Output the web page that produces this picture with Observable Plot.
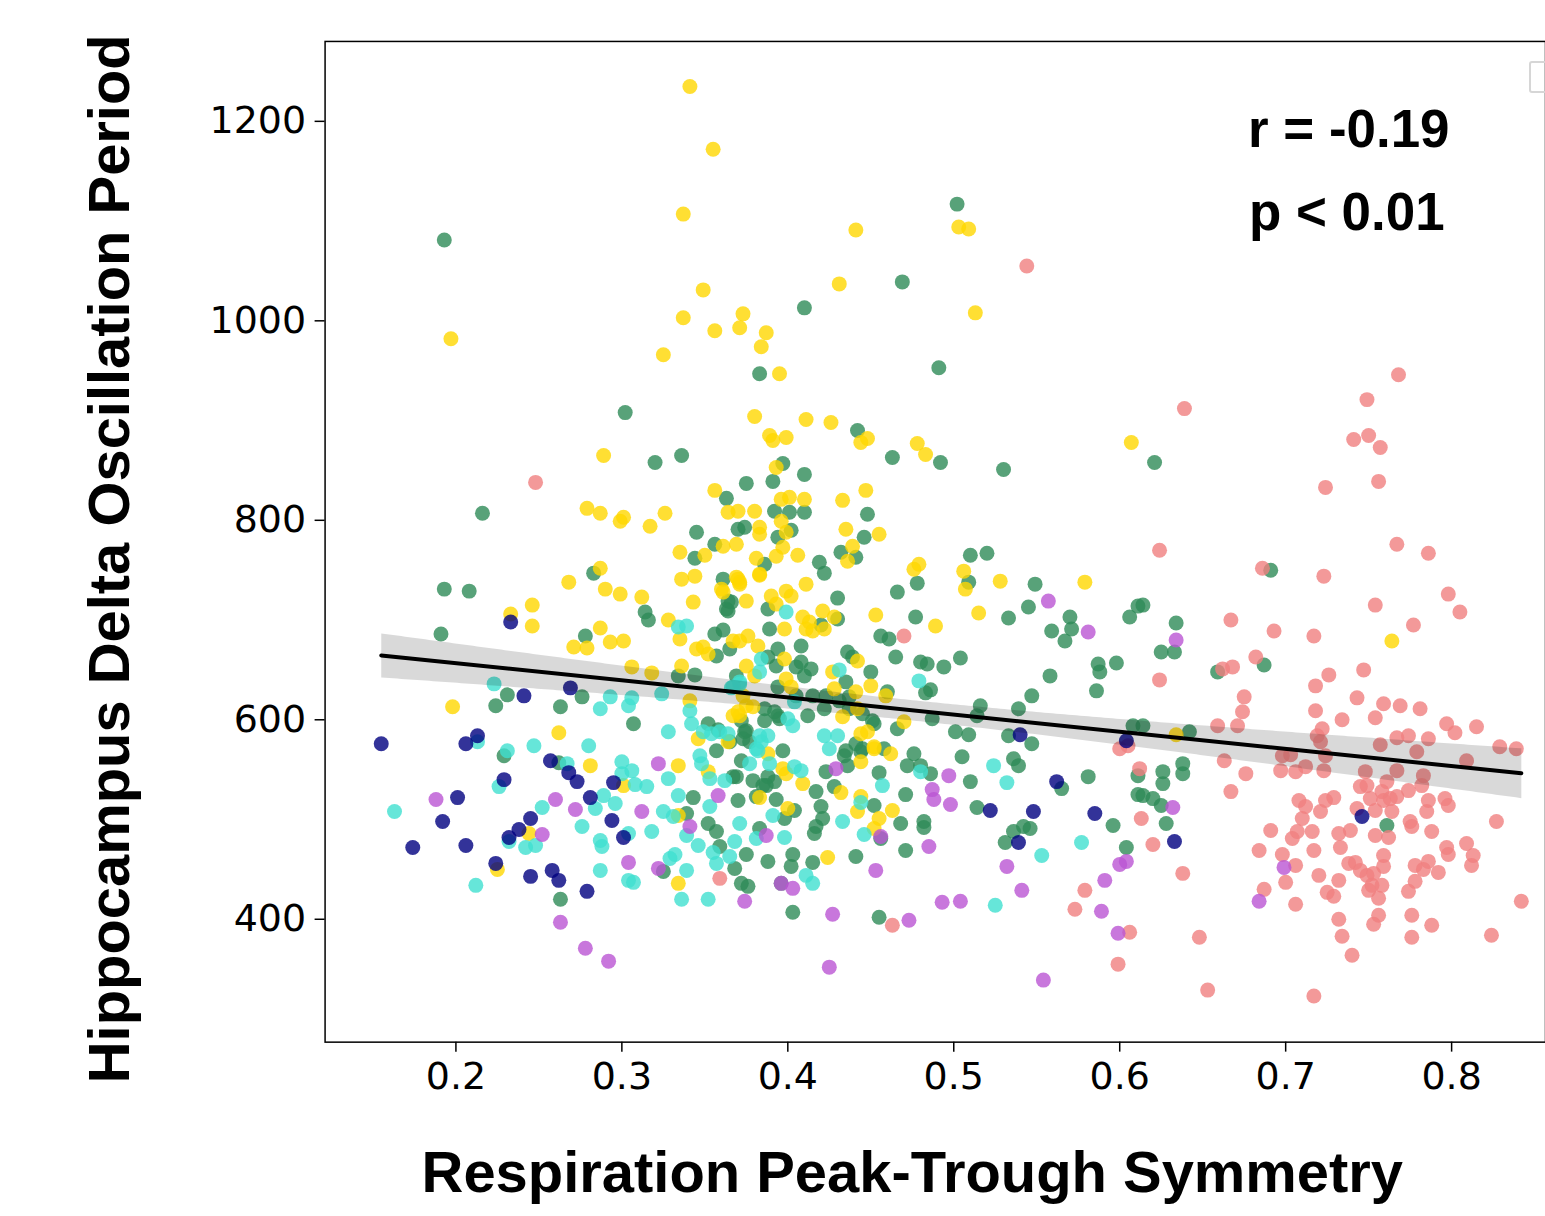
<!DOCTYPE html>
<html>
<head>
<meta charset="utf-8">
<script src="https://cdn.jsdelivr.net/npm/d3@7"></script>
<script src="https://cdn.jsdelivr.net/npm/@observablehq/plot@0.6"></script>
<style>
  html, body { margin: 0; padding: 0; background: #fff; overflow: hidden; }
  #wrap { position: relative; width: 1545px; height: 1216px; overflow: hidden; }
  #legendbox { position: absolute; left: 1529px; top: 61px; width: 30px; height: 32px;
    border: 2px solid #d6d6d6; border-radius: 3px; box-sizing: border-box; }
</style>
</head>
<body>
<div id="wrap"><div id="legendbox"></div></div>
<script>
// ---- data (x = respiration peak-trough symmetry, y = delta oscillation period) ----
const xTicks = [0.2, 0.3, 0.4, 0.5, 0.6, 0.7, 0.8];
const yTicks = [400, 600, 800, 1000, 1200];
const xLabel = "Respiration Peak-Trough Symmetry";
const yLabel = "Hippocampus Delta Oscillation Period";
const statText = ["r = -0.19", "p < 0.01"];

const seagreenPts = [
[0.193,1081],[0.302,908],[0.336,865],
[0.502,1117],[0.469,1039],[0.410,1013],[0.383,947],[0.491,953],[0.442,890],
[0.320,858],[0.216,807],[0.363,822],[0.345,788],[0.356,776],[0.344,762],[0.283,747],[0.361,741],[0.193,731],[0.208,729],[0.314,708],[0.316,700],[0.364,719],[0.363,711],[0.191,686],[0.278,684],[0.356,686],[0.361,690],[0.357,664],[0.365,671],[0.334,644],[0.344,645],[0.231,625],[0.224,614],[0.276,623],[0.263,613],[0.307,596],[0.352,596],[0.358,590],
[0.229,564],[0.262,557],[0.343,522],[0.339,506],[0.352,496],[0.357,488],[0.359,473],[0.263,420],[0.325,448],
[0.372,559],[0.379,539],[0.369,543],[0.397,569],[0.388,543],[0.392,538],[0.387,534],[0.423,548],[0.436,554],[0.434,564],[0.444,568],[0.458,571],[0.476,566],[0.472,554],[0.480,554],[0.486,546],[0.455,547],[0.428,533],[0.417,528],[0.471,525],[0.370,519],[0.381,523],[0.393,520],[0.404,509],[0.398,501],[0.420,513],[0.421,501],[0.417,493],[0.416,486],[0.452,514],[0.468,496],[0.482,498],[0.482,492],[0.456,481],[0.383,491],[0.375,465],[0.368,451],[0.372,436],[0.376,433],[0.403,465],[0.402,453],[0.388,458],[0.415,457],[0.441,463],[0.471,469],[0.396,436],[0.403,407],[0.455,402],[0.505,563],[0.510,538],[0.514,512],[0.536,561],[0.539,554],[0.536,488],[0.542,493],[0.546,491],[0.531,477],[0.565,531],[0.581,543],[0.596,494],[0.604,472],[0.611,544],[0.611,525],
[0.463,863],[0.492,858],[0.530,851],[0.397,857],[0.410,846],[0.391,839],[0.375,837],[0.448,806],[0.392,809],[0.401,808],[0.410,808],[0.374,793],[0.370,791],[0.394,783],[0.402,790],[0.446,783],[0.432,768],[0.441,763],[0.419,758],[0.422,747],[0.386,756],[0.430,722],[0.388,711],[0.430,701],[0.420,695],[0.389,691],[0.477,703],[0.466,728],[0.478,737],[0.510,765],[0.520,767],[0.509,738],[0.549,736],[0.545,713],[0.533,702],[0.570,703],[0.571,691],[0.559,689],[0.567,679],[0.606,703],[0.611,714],[0.408,674],[0.408,658],[0.414,651],[0.410,644],[0.405,653],[0.394,671],[0.388,663],[0.394,633],[0.436,668],[0.439,663],[0.450,648],[0.435,638],[0.460,628],[0.465,663],[0.480,658],[0.484,656],[0.494,653],[0.504,662],[0.483,627],[0.486,630],[0.558,644],[0.587,656],[0.588,648],[0.598,657],[0.586,629],[0.547,624],[0.539,611],[0.516,614],[0.514,604],[0.501,588],[0.509,585],[0.487,601],[0.533,584],[0.547,576],[0.608,594],[0.412,604],[0.452,596],[0.466,591],[0.422,611],[0.374,588],[0.394,604],
[0.366,718],[0.364,709],[0.456,684],[0.461,681],[0.393,654],[0.369,644],[0.415,624],[0.423,624],[0.431,619],[0.437,623],[0.405,624],[0.386,611],[0.392,608],[0.395,601],[0.386,599],[0.437,611],[0.445,606],[0.435,569],[0.441,576],[0.445,571],[0.451,599],[0.372,599],[0.375,589],[0.373,581],[0.377,578],[0.357,569],[0.365,578],[0.367,543],[0.385,534],
[0.621,858],[0.691,750],[0.614,715],[0.634,697],[0.625,668],[0.633,668],[0.659,648],[0.687,655],[0.642,588],[0.614,594],
[0.761,494],[0.628,496],[0.625,514],[0.620,521],[0.614,524],[0.626,536],[0.626,548],[0.638,546],[0.638,556]
];

const goldPts = [
[0.341,1235],[0.355,1172],[0.337,1107],[0.349,1031],[0.337,1003],[0.356,990],[0.371,993],[0.373,1007],[0.197,982],[0.325,966],[0.289,865],
[0.441,1091],[0.503,1094],[0.509,1092],[0.431,1037],[0.513,1008],[0.387,988],[0.384,974],[0.395,947],[0.380,904],[0.411,901],[0.426,898],[0.389,885],[0.391,880],[0.399,883],[0.444,878],[0.448,882],[0.478,877],[0.607,878],
[0.356,830],[0.364,808],[0.279,812],[0.287,807],[0.299,799],[0.301,803],[0.317,794],[0.326,807],[0.361,774],[0.335,768],[0.350,765],[0.287,752],[0.268,738],[0.336,741],[0.344,744],[0.360,731],[0.361,728],[0.290,731],[0.299,726],[0.312,723],[0.343,718],[0.246,715],[0.233,706],[0.246,694],[0.328,700],[0.287,692],[0.271,673],[0.279,672],[0.293,678],[0.301,679],[0.335,681],[0.345,671],[0.349,673],[0.352,666],[0.367,679],[0.306,653],[0.318,647],[0.336,654],[0.198,613],[0.262,587],[0.341,619],[0.367,604],[0.346,581],[0.364,578],
[0.281,554],[0.334,554],[0.301,534],[0.352,548],[0.334,504],[0.244,486],[0.225,450],[0.334,436],
[0.388,566],[0.397,551],[0.399,546],[0.409,536],[0.444,558],[0.452,571],[0.462,566],[0.383,522],[0.400,511],[0.432,527],[0.444,523],[0.442,508],[0.455,501],[0.463,509],[0.452,491],[0.424,462],
[0.483,866],[0.393,853],[0.433,820],[0.447,830],[0.396,821],[0.401,823],[0.410,821],[0.380,809],[0.370,809],[0.383,793],[0.383,786],[0.396,799],[0.399,788],[0.435,791],[0.455,786],[0.369,776],[0.397,773],[0.393,764],[0.406,765],[0.381,762],[0.439,774],[0.436,759],[0.383,745],[0.370,741],[0.371,736],[0.411,736],[0.390,724],[0.393,716],[0.399,729],[0.402,724],[0.375,719],[0.421,709],[0.428,703],[0.409,703],[0.413,698],[0.411,691],[0.415,689],[0.422,691],[0.398,691],[0.453,705],[0.489,694],[0.476,751],[0.479,756],[0.506,749],[0.507,731],[0.528,739],[0.515,707],[0.579,738],[0.376,684],[0.382,674],[0.371,679],[0.398,661],[0.375,654],[0.380,644],[0.399,641],[0.402,633],[0.442,659],[0.427,648],[0.428,631],[0.441,628],[0.450,634],[0.459,624],[0.371,604],[0.433,603],[0.470,598],[0.444,586],[0.448,588],[0.370,608],[0.379,613],
[0.369,743],[0.371,738],[0.383,746],[0.373,624],[0.375,614],[0.442,611],[0.452,573],
[0.764,679],[0.634,585]
];

const turquoisePts = [
[0.334,693],[0.339,694],[0.223,636],[0.287,611],[0.293,623],[0.304,614],[0.306,622],[0.324,626],[0.328,588],[0.341,609],[0.342,596],[0.349,588],[0.354,586],[0.359,588],[0.364,586],[0.366,632],[0.213,578],[0.231,569],[0.247,574],[0.280,574],
[0.267,556],[0.300,558],[0.306,549],[0.300,546],[0.226,533],[0.308,535],[0.315,533],[0.328,541],[0.353,541],[0.362,539],[0.163,508],[0.289,524],[0.296,516],[0.284,511],[0.252,512],[0.325,508],[0.331,503],[0.334,524],[0.353,513],[0.339,484],[0.346,474],[0.355,467],[0.357,456],[0.365,463],[0.232,478],[0.242,472],[0.248,474],[0.276,493],[0.304,486],[0.287,479],[0.288,473],[0.318,488],[0.212,434],[0.287,449],[0.304,439],[0.307,437],[0.329,461],[0.332,465],[0.339,449],[0.336,420],[0.352,420],
[0.377,556],[0.389,556],[0.382,569],[0.404,553],[0.408,549],[0.480,548],[0.457,534],[0.391,504],[0.444,517],[0.433,498],[0.446,485],[0.371,496],[0.368,478],[0.381,481],[0.398,482],[0.411,444],[0.415,436],[0.524,554],[0.532,537],[0.553,464],[0.525,414],[0.577,477],
[0.399,708],[0.431,650],[0.479,639],[0.384,661],[0.383,648],[0.371,636],[0.400,601],[0.403,594],[0.404,618],[0.422,584],[0.430,584],[0.383,584],[0.388,584],
[0.371,638],[0.367,633],[0.425,571],[0.384,578],[0.381,571],[0.347,564],[0.348,556]
];

const lightcoralPts = [
[0.544,1055],[0.248,838],[0.768,946],[0.749,921],[0.639,912],[0.741,881],[0.750,885],[0.757,873],
[0.470,684],[0.359,441],
[0.463,394],[0.579,429],[0.573,410],[0.606,387],[0.599,355],[0.600,571],[0.613,501],[0.612,551],[0.605,574],
[0.756,839],[0.724,833],[0.624,770],[0.767,776],[0.786,767],[0.686,752],[0.723,744],[0.798,726],[0.805,708],[0.754,715],[0.777,695],[0.667,700],[0.693,689],[0.717,684],[0.624,640],[0.662,651],[0.668,653],[0.682,663],[0.726,645],[0.718,634],[0.747,650],[0.675,623],[0.674,608],[0.671,594],[0.659,594],[0.718,609],[0.722,591],[0.719,584],[0.721,578],[0.743,622],[0.734,600],[0.754,602],[0.759,616],[0.769,614],[0.781,611],[0.797,596],[0.802,587],[0.815,593],[0.767,582],[0.774,584],[0.786,581],[0.757,575],[0.829,573],[0.839,571],
[0.663,559],[0.676,546],[0.667,528],[0.697,549],[0.706,548],[0.712,553],[0.723,549],[0.698,564],[0.703,565],[0.724,564],[0.748,548],[0.767,549],[0.779,568],[0.783,544],[0.782,534],[0.809,559],[0.745,533],[0.749,534],[0.761,538],[0.758,528],[0.767,523],[0.759,519],[0.763,521],[0.774,529],[0.708,519],[0.712,513],[0.724,519],[0.729,522],[0.721,508],[0.710,501],[0.743,511],[0.751,521],[0.754,509],[0.764,508],[0.786,519],[0.785,508],[0.796,521],[0.798,514],[0.775,498],[0.776,493],[0.788,488],[0.827,498],[0.691,489],[0.704,481],[0.707,488],[0.716,488],[0.732,486],[0.739,489],[0.754,484],[0.762,482],[0.684,469],[0.698,465],[0.717,469],[0.733,472],[0.759,464],[0.797,472],[0.798,465],[0.809,476],[0.813,464],[0.812,454],[0.706,454],[0.738,456],[0.742,457],[0.745,449],[0.759,453],[0.778,454],[0.783,450],[0.786,458],[0.792,447],[0.720,444],[0.732,439],[0.749,444],[0.753,446],[0.758,434],[0.752,434],[0.778,438],[0.774,428],[0.842,418],[0.638,446],[0.620,475],[0.687,430],[0.700,437],[0.706,415],[0.725,427],[0.729,423],[0.750,429],[0.756,421],[0.732,400],[0.734,383],[0.740,364],[0.756,404],[0.753,395],[0.776,404],[0.776,382],[0.788,394],[0.824,384],[0.648,382],[0.653,329],[0.717,323]
];

const mediumorchidPts = [
[0.322,556],[0.188,520],[0.260,520],[0.272,510],[0.312,508],[0.358,524],[0.341,493],[0.252,485],[0.304,457],[0.322,451],[0.263,397],[0.278,371],[0.292,358],[0.429,551],[0.456,483],[0.387,484],[0.396,436],[0.403,431],[0.374,418],[0.427,405],[0.453,449],[0.473,399],[0.425,352],[0.497,544],[0.487,530],[0.488,520],[0.498,515],[0.485,473],[0.532,453],[0.541,429],[0.493,417],[0.504,418],[0.554,339],[0.600,455],[0.604,458],[0.591,439],[0.589,408],[0.599,386],[0.557,719],[0.581,688],[0.634,680],[0.632,512],[0.699,452],[0.684,418]
];

const navyPts = [
[0.233,698],[0.269,632],[0.241,624],[0.155,576],[0.206,576],[0.213,584],[0.257,559],[0.268,547],[0.273,538],[0.229,540],[0.295,537],[0.201,522],[0.281,522],[0.192,498],[0.245,501],[0.238,490],[0.232,482],[0.294,499],[0.301,482],[0.174,472],[0.206,474],[0.224,456],[0.245,443],[0.258,449],[0.262,439],[0.279,428],[0.522,509],[0.548,508],[0.539,477],[0.562,538],[0.585,506],[0.540,585],[0.604,579],[0.746,503],[0.633,478]
];

const groupNames = ["seagreen", "gold", "turquoise", "lightcoral", "mediumorchid", "navy"];
const groupPts = [seagreenPts, goldPts, turquoisePts, lightcoralPts, mediumorchidPts, navyPts];

const rows = groupPts.flatMap((pts, i) => pts.map(([x, y]) => ({x, y, g: groupNames[i]})));

const W = 1547, H = 1216;
const chart = Plot.plot({
  width: W,
  height: H,
  marginLeft: 325,
  marginRight: 0,
  marginTop: 41,
  marginBottom: 173,
  style: {fontFamily: "DejaVu Sans", color: "black", background: "white", overflow: "visible"},
  x: {domain: [0.12116, 0.85657]},
  y: {domain: [276.8, 1280.1]},
  marks: [
    ...groupNames.map((name, i) => Plot.dot(groupPts[i].map(([x, y]) => ({x, y})), {
      x: "x", y: "y", r: 7.5, fill: name, fillOpacity: 0.8, stroke: "none"
    })),
    Plot.linearRegressionY(rows, {
      x: "x", y: "y", stroke: "black", strokeWidth: 4, fill: "black", fillOpacity: 0.15, ci: 0.95
    }),
    Plot.frame({stroke: "black", strokeWidth: 1.5}),
    Plot.axisX({ticks: xTicks, tickSize: 10, tickPadding: 10, fontSize: 38, strokeWidth: 1.5,
      tickFormat: d3.format(".1f"), label: null}),
    Plot.axisY({ticks: yTicks, tickSize: 10, tickPadding: 9, fontSize: 38, strokeWidth: 1.5,
      tickFormat: d => String(d), label: null}),
    Plot.text([yLabel], {frameAnchor: "left", dx: -215, dy: 17, rotate: -90, textAnchor: "middle",
      lineAnchor: "middle", fontSize: 58, fontWeight: "bold", fontFamily: "Liberation Sans", fill: "black"}),
    Plot.text([xLabel], {frameAnchor: "bottom", dx: -23, dy: 131, textAnchor: "middle",
      lineAnchor: "middle", fontSize: 58, fontWeight: "bold", fontFamily: "Liberation Sans", fill: "black"}),
    Plot.text([statText[0]], {frameAnchor: "top", dx: 414, dy: 89, textAnchor: "middle",
      lineAnchor: "middle", fontSize: 53, fontWeight: "bold", fontFamily: "Liberation Sans", fill: "black"}),
    Plot.text([statText[1]], {frameAnchor: "top", dx: 412, dy: 172, textAnchor: "middle",
      lineAnchor: "middle", fontSize: 53, fontWeight: "bold", fontFamily: "Liberation Sans", fill: "black"})
  ]
});
const wrap = document.getElementById("wrap");
wrap.insertBefore(chart, wrap.firstChild);
</script>
</body>
</html>
